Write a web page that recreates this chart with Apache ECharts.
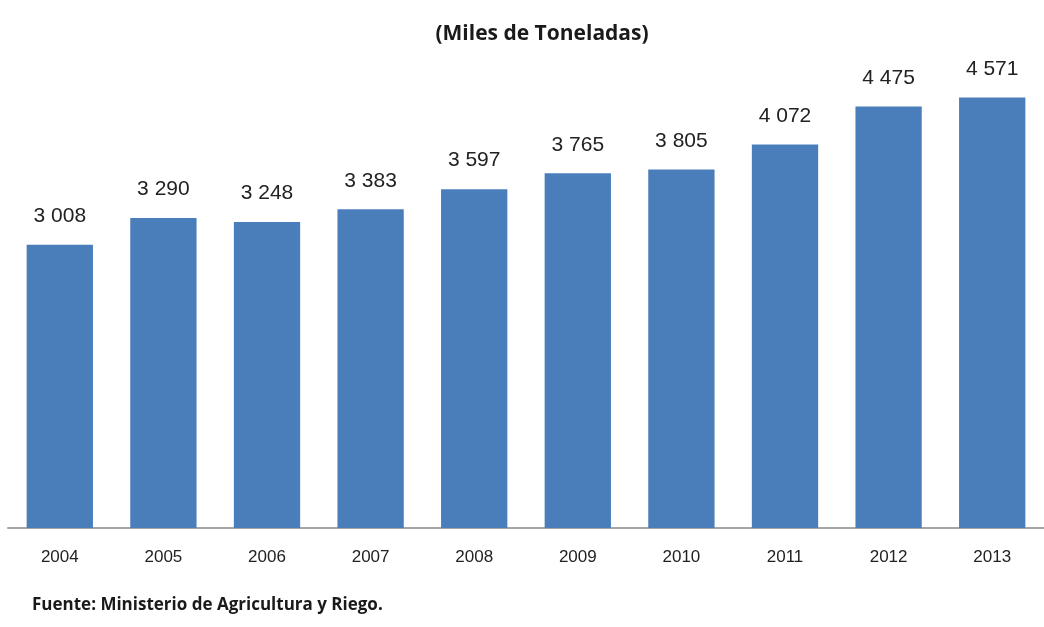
<!DOCTYPE html>
<html>
<head>
<meta charset="utf-8">
<script src="https://cdn.jsdelivr.net/npm/echarts@6/dist/echarts.min.js"></script>
<style>
html, body { margin: 0; padding: 0; background: #fff; }
#main { width: 1044px; height: 627px; }
</style>
</head>
<body>
<div id="main"></div>
<script>
let years = ["2004","2005","2006","2007","2008","2009","2010","2011","2012","2013"]
let toneladas = [3008, 3290, 3248, 3383, 3597, 3765, 3805, 4072, 4475, 4571]

// miles con espacio: 3 008
function fmt(v) {
    return String(v).replace(/\B(?=(\d{3})+(?!\d))/g, " ")
}

var myChart = echarts.init(document.getElementById('main'))
var narrow = '"Liberation Sans Narrow", "Arial Narrow", "Liberation Sans", sans-serif'

var option = {
    animation: false,
    title: [
        {
            text: '(Miles de Toneladas)',
            left: 537,
            top: 19,
            textAlign: 'center',
            textStyle: { fontFamily: '"Open Sans", sans-serif', fontWeight: 'bold', fontSize: 21, color: '#1a1a1a' }
        },
        {
            text: 'Fuente: Ministerio de Agricultura y Riego.',
            left: 27,
            top: 592,
            textStyle: { fontFamily: '"Open Sans", sans-serif', fontWeight: 'bold', fontSize: 17, color: '#1a1a1a' }
        }
    ],
    grid: { left: 8, top: 57, width: 1052, height: 471, containLabel: false },
    xAxis: {
        type: 'category',
        data: years,
        axisTick: { show: false },
        axisLine: { lineStyle: { color: '#a6a6a6', width: 2 } },
        axisLabel: { margin: 21, fontFamily: narrow, fontSize: 17, color: '#222' }
    },
    yAxis: {
        type: 'value',
        min: 0,
        max: 5000,
        show: false,
        splitLine: { show: false }
    },
    series: [
        {
            type: 'bar',
            data: toneladas,
            barCategoryGap: '36%',
            itemStyle: { color: '#4a7ebb' },
            label: {
                show: true,
                position: 'top',
                distance: 18,
                fontFamily: narrow,
                fontSize: 21,
                color: '#222',
                formatter: p => fmt(p.value)
            }
        }
    ]
}
myChart.setOption(option)
</script>
</body>
</html>
